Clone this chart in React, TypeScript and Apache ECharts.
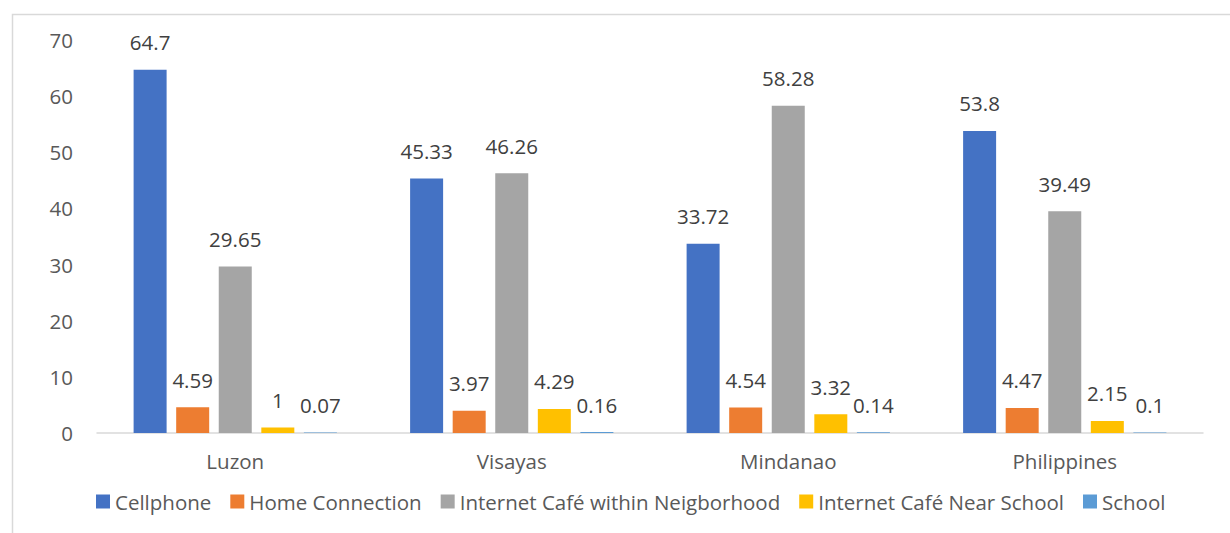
import React, { useEffect, useRef } from "react";
import * as echarts from "echarts";

const regions = ["Luzon", "Visayas", "Mindanao", "Philippines"];
const seriesNames = [
  "Cellphone",
  "Home Connection",
  "Internet Café within Neigborhood",
  "Internet Café Near School",
  "School",
];
const cellphone = [64.7, 45.33, 33.72, 53.8];
const homeConnection = [4.59, 3.97, 4.54, 4.47];
const cafeNeighborhood = [29.65, 46.26, 58.28, 39.49];
const cafeNearSchool = [1, 4.29, 3.32, 2.15];
const school = [0.07, 0.16, 0.14, 0.1];
const colors = ["#4472C4", "#ED7D31", "#A5A5A5", "#FFC000", "#5B9BD5"];

const FONT = "'Open Sans', 'Noto Sans', sans-serif";
const FS = 20.5;

export default function App() {
  const ref = useRef<HTMLDivElement>(null);

  useEffect(() => {
    document.body.style.margin = "0";
    if (!ref.current) return;
    const chart = echarts.init(ref.current, null, { renderer: "svg" });
    const values = [cellphone, homeConnection, cafeNeighborhood, cafeNearSchool, school];
    chart.setOption({
      animation: false,
      textStyle: { fontFamily: FONT },
      color: colors,
      graphic: [
        {
          type: "rect",
          shape: { x: 12.5, y: 14.5, width: 1240, height: 540 },
          style: { fill: "none", stroke: "#d9d9d9", lineWidth: 1.5 },
          silent: true,
        },
      ],
      grid: { left: 97, right: 27, top: 40, bottom: 100 },
      legend: {
        left: 91,
        top: 486,
        itemWidth: 14,
        itemHeight: 14,
        itemGap: 19,
        icon: "rect",
        textStyle: { color: "#595959", fontSize: FS, fontFamily: FONT },
        data: seriesNames,
      },
      xAxis: {
        type: "category",
        data: regions,
        axisLine: { lineStyle: { color: "#d9d9d9", width: 1.5 } },
        axisTick: { show: false },
        axisLabel: { color: "#595959", fontSize: FS, margin: 17, fontFamily: FONT },
      },
      yAxis: {
        type: "value",
        min: 0,
        max: 70,
        interval: 10,
        splitLine: { show: false },
        axisLine: { show: false },
        axisTick: { show: false },
        axisLabel: { color: "#595959", fontSize: FS, margin: 24, fontFamily: FONT },
      },
      series: seriesNames.map((name, i) => ({
        name,
        type: "bar",
        data: values[i],
        barWidth: 33,
        barGap: "29%",
        barCategoryGap: "26%",
        itemStyle: { color: colors[i] },
        label: {
          show: true,
          position: "top",
          distance: 17,
          color: "#404040",
          fontSize: FS,
          fontFamily: FONT,
        },
      })),
    });
    return () => chart.dispose();
  }, []);

  return <div ref={ref} style={{ width: 1230, height: 533 }} />;
}
